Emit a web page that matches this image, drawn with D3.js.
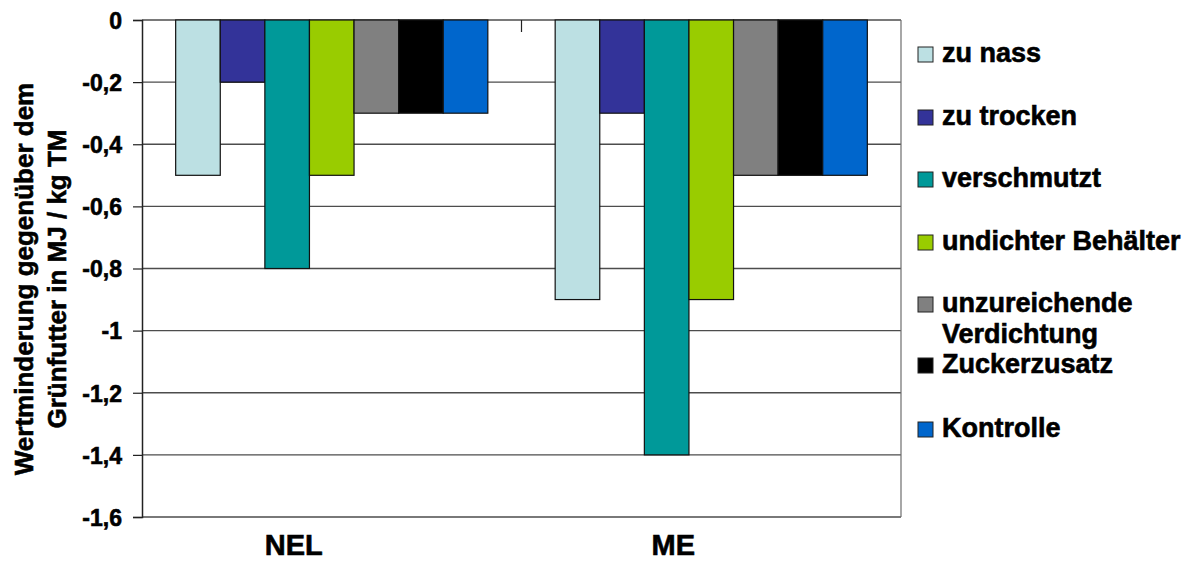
<!DOCTYPE html>
<html>
<head>
<meta charset="utf-8">
<script src="https://cdn.jsdelivr.net/npm/d3@7"></script>
<style>
  html, body { margin: 0; padding: 0; background: #fff; }
  svg { display: block; font-family: "Liberation Sans", Arial, sans-serif; font-weight: bold; }
  svg text { stroke: #000; stroke-width: 0.6px; paint-order: stroke; }
</style>
</head>
<body>
<svg id="chart" width="1204" height="561"></svg>
<script>
// Kennzahlen (Gruppen auf der x-Achse)
const categories = ["NEL", "ME"];

// Silage-Varianten (Legende)
const seriesNames = [
  "zu nass",
  "zu trocken",
  "verschmutzt",
  "undichter Behälter",
  "unzureichende Verdichtung",
  "Zuckerzusatz",
  "Kontrolle"
];

// Wertminderung je Variante, in MJ / kg TM
const nelValues = [-0.5, -0.2, -0.8, -0.5, -0.3, -0.3, -0.3];
const meValues  = [-0.9, -0.3, -1.4, -0.9, -0.5, -0.5, -0.5];

const seriesColors = ["#bce0e3", "#333399", "#009999", "#99cc00", "#808080", "#000000", "#0066cc"];

const yTicks = [0, -0.2, -0.4, -0.6, -0.8, -1, -1.2, -1.4, -1.6];
const yTickLabels = ["0", "-0,2", "-0,4", "-0,6", "-0,8", "-1", "-1,2", "-1,4", "-1,6"];

const valuesByCategory = { NEL: nelValues, ME: meValues };

const svg = d3.select("#chart");
const plot = { left: 142, top: 20, right: 901, bottom: 517 };

const x0 = d3.scaleBand().domain(categories).range([plot.left, plot.right]).padding(0);
const x1 = d3.scaleBand().domain(seriesNames).range([0, x0.bandwidth()])
  .paddingInner(0).paddingOuter(0.755);
const y = d3.scaleLinear().domain([-1.6, 0]).range([plot.bottom, plot.top]);

// horizontal gridlines
svg.append("g")
  .selectAll("line")
  .data(yTicks)
  .join("line")
  .attr("x1", plot.left).attr("x2", plot.right)
  .attr("y1", d => y(d)).attr("y2", d => y(d))
  .attr("stroke", "#4d4d4d").attr("stroke-width", 1.4);

// right edge of the plot area
svg.append("line")
  .attr("x1", plot.right).attr("x2", plot.right)
  .attr("y1", plot.top).attr("y2", plot.bottom)
  .attr("stroke", "#6d6d6d").attr("stroke-width", 1.2);

// bars
const groups = svg.append("g")
  .selectAll("g")
  .data(categories)
  .join("g")
  .attr("transform", d => `translate(${x0(d)},0)`);

groups.selectAll("rect")
  .data(c => valuesByCategory[c].map((v, i) => ({ name: seriesNames[i], value: v, color: seriesColors[i] })))
  .join("rect")
  .attr("x", d => x1(d.name))
  .attr("width", x1.bandwidth())
  .attr("y", d => y(0))
  .attr("height", d => y(d.value) - y(0))
  .attr("fill", d => d.color)
  .attr("stroke", "#111")
  .attr("stroke-width", 1.2);

// y axis
const yAxis = d3.axisLeft(y)
  .tickValues(yTicks)
  .tickFormat((d, i) => yTickLabels[i])
  .tickSize(9)
  .tickPadding(11);

const yAxisG = svg.append("g")
  .attr("transform", `translate(${plot.left},0)`)
  .call(yAxis);
yAxisG.select(".domain").attr("stroke", "#222").attr("stroke-width", 1.5);
yAxisG.selectAll(".tick line").attr("stroke", "#222").attr("stroke-width", 1.2);
yAxisG.selectAll(".tick text")
  .attr("fill", "#000")
  .attr("dy", "0.36em")
  .style("font-size", "23px")
  .style("font-weight", "bold")
  .style("font-family", "'Liberation Sans', Arial, sans-serif");

// category separator tick at the zero line
svg.append("g")
  .selectAll("line")
  .data(categories.slice(1))
  .join("line")
  .attr("x1", d => x0(d)).attr("x2", d => x0(d))
  .attr("y1", y(0)).attr("y2", y(0) + 12)
  .attr("stroke", "#222").attr("stroke-width", 1.2);

// category labels
svg.append("g")
  .selectAll("text")
  .data(categories)
  .join("text")
  .attr("x", d => x0(d) + x0.bandwidth() / 2 - 38)
  .attr("y", 555)
  .attr("text-anchor", "middle")
  .style("font-size", "29px")
  .text(d => d);

// y axis title
const yTitle = svg.append("text")
  .attr("transform", "translate(0,279) rotate(-90)")
  .attr("text-anchor", "middle")
  .style("font-size", "26px");
yTitle.append("tspan").attr("x", 0).attr("y", 33).text("Wertminderung gegenüber dem");
yTitle.append("tspan").attr("x", 0).attr("y", 66).text("Grünfutter in MJ / kg TM");

// legend
const legendRows = [
  { lines: ["zu nass"], base: 62 },
  { lines: ["zu trocken"], base: 125 },
  { lines: ["verschmutzt"], base: 187 },
  { lines: ["undichter Behälter"], base: 250 },
  { lines: ["unzureichende", "Verdichtung"], base: 312 },
  { lines: ["Zuckerzusatz"], base: 373 },
  { lines: ["Kontrolle"], base: 437 }
];

const legend = svg.append("g")
  .selectAll("g")
  .data(seriesNames)
  .join("g");

legend.append("rect")
  .attr("x", 918)
  .attr("y", (d, i) => legendRows[i].base - 15)
  .attr("width", 15)
  .attr("height", 15)
  .attr("fill", (d, i) => seriesColors[i])
  .attr("stroke", "#222")
  .attr("stroke-width", 1);

legend.append("text")
  .attr("x", 942)
  .attr("y", (d, i) => legendRows[i].base)
  .style("font-size", "27px")
  .each(function (d, i) {
    const t = d3.select(this);
    legendRows[i].lines.forEach((line, k) => {
      t.append("tspan").attr("x", 942).attr("dy", k === 0 ? 0 : 31).text(line);
    });
  });
</script>
</body>
</html>
